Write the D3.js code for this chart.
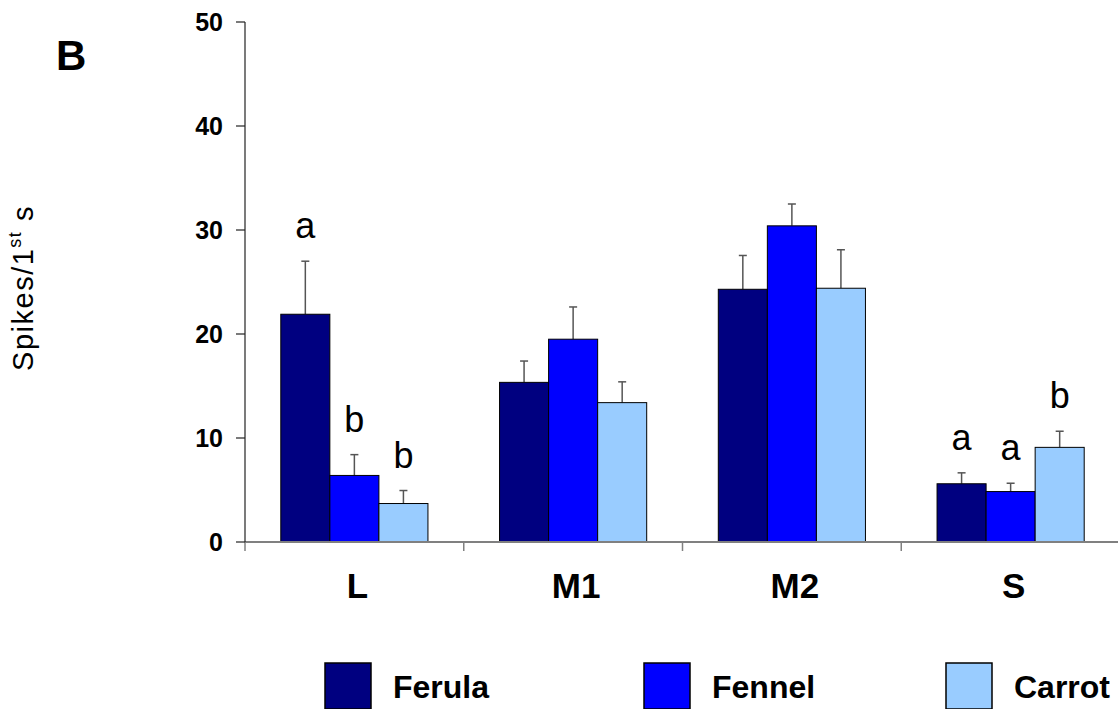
<!DOCTYPE html>
<html lang="en">
<head>
<meta charset="utf-8">
<title>Spikes per first second</title>
<script type="text/javascript" src="https://d3js.org/d3.v7.min.js"></script>
<style type="text/css">
    body { margin: 0; background: #fff; }
    text { font-family: Arial, "Liberation Sans", sans-serif; }
</style>
</head>
<body>
<script type="text/javascript">
// chart values
var categories = ["L", "M1", "M2", "S"];
var series = ["Ferula", "Fennel", "Carrot"];
var ferula = [21.9, 15.35, 24.3, 5.6];
var fennel = [6.4, 19.5, 30.4, 4.85];
var carrot = [3.7, 13.4, 24.4, 9.1];
var ferulaErr = [5.1, 2.05, 3.25, 1.05];
var fennelErr = [2.0, 3.1, 2.1, 0.8];
var carrotErr = [1.25, 2.0, 3.7, 1.55];
// significance letters per category (empty = none)
var letters = [["a", "b", "b"], ["", "", ""], ["", "", ""], ["a", "a", "b"]];
var yTicks = [0, 10, 20, 30, 40, 50];

var colors = {Ferula: "#000080", Fennel: "#0000ff", Carrot: "#99ccff"};
var values = {Ferula: ferula, Fennel: fennel, Carrot: carrot};
var errs = {Ferula: ferulaErr, Fennel: fennelErr, Carrot: carrotErr};

var W = 1118, H = 709;
var svg = d3.select("body").append("svg")
    .attr("width", W)
    .attr("height", H);

var y = d3.scaleLinear().domain([0, 50]).range([542, 22]);

var x0 = d3.scaleBand()
    .domain(categories)
    .range([245, 1120])
    .padding(0);

var x1 = d3.scaleBand()
    .domain(series)
    .range([0, x0.bandwidth()])
    .paddingInner(0)
    .paddingOuter(0.73);

// rows: one per bar
var rows = [];
categories.forEach(function(c, i) {
    series.forEach(function(s, j) {
        rows.push({cat: c, s: s, v: values[s][i], e: errs[s][i], letter: letters[i][j]});
    });
});

// error bars (drawn under the bars)
var eb = svg.append("g").attr("class", "errors");
eb.selectAll("line.stem")
    .data(rows)
    .enter().append("line")
    .attr("class", "stem")
    .attr("x1", function(d) { return x0(d.cat) + x1(d.s) + x1.bandwidth() / 2; })
    .attr("x2", function(d) { return x0(d.cat) + x1(d.s) + x1.bandwidth() / 2; })
    .attr("y1", function(d) { return y(d.v); })
    .attr("y2", function(d) { return y(d.v + d.e); })
    .attr("stroke", "#555")
    .attr("stroke-width", 1.5);
eb.selectAll("line.cap")
    .data(rows)
    .enter().append("line")
    .attr("class", "cap")
    .attr("x1", function(d) { return x0(d.cat) + x1(d.s) + x1.bandwidth() / 2 - 4; })
    .attr("x2", function(d) { return x0(d.cat) + x1(d.s) + x1.bandwidth() / 2 + 4; })
    .attr("y1", function(d) { return y(d.v + d.e); })
    .attr("y2", function(d) { return y(d.v + d.e); })
    .attr("stroke", "#555")
    .attr("stroke-width", 1.5);

// bars
svg.selectAll("rect.bar")
    .data(rows)
    .enter().append("rect")
    .attr("class", "bar")
    .attr("x", function(d) { return x0(d.cat) + x1(d.s); })
    .attr("width", x1.bandwidth())
    .attr("y", function(d) { return y(d.v); })
    .attr("height", function(d) { return y(0) - y(d.v); })
    .attr("fill", function(d) { return colors[d.s]; })
    .attr("stroke", "#000")
    .attr("stroke-width", 1);

// letters
svg.selectAll("text.letter")
    .data(rows.filter(function(d) { return d.letter !== ""; }))
    .enter().append("text")
    .attr("class", "letter")
    .attr("x", function(d) { return x0(d.cat) + x1(d.s) + x1.bandwidth() / 2; })
    .attr("y", function(d) { return y(d.v + d.e) - 23; })
    .attr("text-anchor", "middle")
    .attr("font-size", "36px")
    .text(function(d) { return d.letter; });

// x axis
var xa = svg.append("g").attr("class", "x axis");
xa.append("line")
    .attr("x1", x0.range()[0]).attr("x2", x0.range()[1])
    .attr("y1", y(0)).attr("y2", y(0))
    .attr("stroke", "#808080").attr("stroke-width", 2);
xa.selectAll("line.tick")
    .data(categories.concat(["end"]))
    .enter().append("line")
    .attr("class", "tick")
    .attr("x1", function(d) { return d === "end" ? x0.range()[1] : x0(d); })
    .attr("x2", function(d) { return d === "end" ? x0.range()[1] : x0(d); })
    .attr("y1", y(0)).attr("y2", y(0) + 9)
    .attr("stroke", "#808080").attr("stroke-width", 1.5);
xa.selectAll("text")
    .data(categories)
    .enter().append("text")
    .attr("x", function(d) { return x0(d) + x0.bandwidth() / 2 + 3; })
    .attr("y", 598)
    .attr("text-anchor", "middle")
    .attr("font-size", "35px")
    .attr("font-weight", "bold")
    .text(function(d) { return d; });

// y axis
var ya = svg.append("g").attr("class", "y axis");
ya.append("line")
    .attr("x1", 245).attr("x2", 245)
    .attr("y1", y(0)).attr("y2", y(50))
    .attr("stroke", "#222").attr("stroke-width", 1.2);
ya.selectAll("line.tick")
    .data(yTicks)
    .enter().append("line")
    .attr("class", "tick")
    .attr("x1", 236).attr("x2", 245)
    .attr("y1", function(d) { return y(d); })
    .attr("y2", function(d) { return y(d); })
    .attr("stroke", "#222").attr("stroke-width", 1.2);
ya.selectAll("text")
    .data(yTicks)
    .enter().append("text")
    .attr("x", 223)
    .attr("y", function(d) { return y(d); })
    .attr("dy", "0.36em")
    .attr("text-anchor", "end")
    .attr("font-size", "25px")
    .attr("font-weight", "bold")
    .text(function(d) { return d; });

// y title
var yt = svg.append("text")
    .attr("transform", "translate(33,288) rotate(-90)")
    .attr("text-anchor", "middle")
    .attr("font-size", "29px")
    .attr("letter-spacing", "1.5px");
yt.append("tspan").text("Spikes/1");
yt.append("tspan").attr("font-size", "18px").attr("dy", "-12").text("st");
yt.append("tspan").attr("dy", "12").text(" s");

// panel letter
svg.append("text")
    .attr("x", 56)
    .attr("y", 70)
    .attr("font-size", "42px")
    .attr("font-weight", "bold")
    .text("B");

// legend
var lx = d3.scaleOrdinal().domain(series).range([325, 644, 946]);
var lg = svg.append("g").attr("class", "legend");
lg.selectAll("rect")
    .data(series)
    .enter().append("rect")
    .attr("x", function(d) { return lx(d); })
    .attr("y", 663)
    .attr("width", 46)
    .attr("height", 46)
    .attr("fill", function(d) { return colors[d]; })
    .attr("stroke", "#000")
    .attr("stroke-width", 1.5);
lg.selectAll("text")
    .data(series)
    .enter().append("text")
    .attr("x", function(d) { return lx(d) + 68; })
    .attr("y", 698)
    .attr("font-size", "32px")
    .attr("font-weight", "bold")
    .text(function(d) { return d; });
</script>
</body>
</html>
